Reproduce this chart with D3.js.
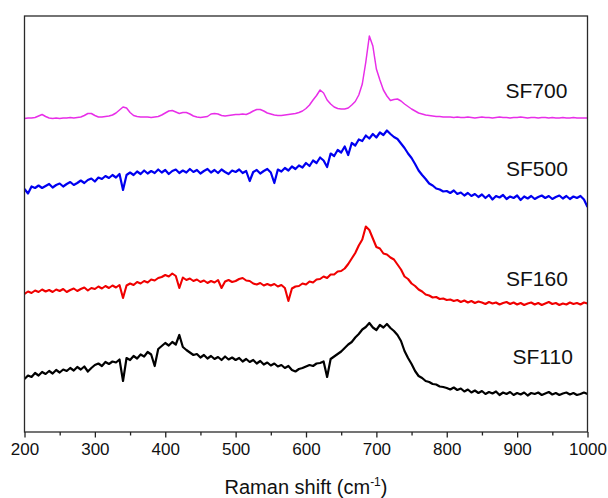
<!DOCTYPE html>
<html>
<head>
<meta charset="utf-8">
<script src="https://cdn.jsdelivr.net/npm/d3@7"></script>
<style>
  body { margin: 0; background: #fff; }
  svg text { font-family: Arial, "Liberation Sans", sans-serif; fill: #111; }
</style>
</head>
<body>
<svg id="chart" width="608" height="498"></svg>
<script>
// Raman shift grid, cm-1
const ramanShift = d3.range(200, 1001, 5);

// intensities (a.u., stacked offsets)
const sf700 = [
  321.5, 322, 322, 322.5, 324, 325.5, 323.5, 322, 321.5, 322,
  321.5, 322, 322, 322.5, 322, 322.5, 323, 324.5, 326.5, 326.5,
  324.5, 323, 323, 323.5, 324, 325, 327, 330, 333, 332,
  327.5, 324.5, 323.5, 323, 323, 323, 322.5, 323, 323.5, 325,
  327, 329, 329.5, 328, 326.5, 327.5, 327.5, 326, 324, 323,
  322.5, 323, 323.5, 326, 326.5, 326, 324.5, 324, 324.5, 325,
  325.5, 325.5, 326, 325.5, 327, 329, 330.5, 330.5, 329, 327,
  326, 325, 324.5, 324.5, 325, 325.5, 326, 326.5, 327.5, 329,
  331.5, 335, 340, 344.5, 350, 347, 340, 336, 333, 331.5,
  331, 331, 332, 335, 338.5, 345, 356, 378, 404, 394,
  371, 360, 350, 344, 339.5, 340.5, 341, 339, 336, 333.5,
  331, 329, 327, 326, 325, 324.5, 324, 323.5, 323.5, 323,
  323,
  323, 322.5, 323, 322.5, 322.5, 323, 322.5, 322, 322.5, 323,
  322.5, 322.5, 322, 322.5, 323, 322.5, 322.5, 322, 322.5, 322.5,
  323, 322.5, 322, 322.5, 322.5, 322, 322.5, 322.5, 322, 322.5,
  322, 322, 322.5, 322, 322, 322.5, 322, 322, 322, 322
];

const sf500 = [
  251, 246.5, 253.5, 252, 254.5, 252, 254, 256, 252.5, 255,
  256.5, 253.5, 256, 258, 255, 257, 259.5, 257, 260, 261.5,
  258.5, 262.5, 261, 264, 262, 265, 262.5, 266, 250, 265,
  267.5, 265, 268.5, 266, 269.5, 266.5, 269, 267, 270.5, 267.5,
  270, 266, 269, 270.5, 267, 269.5, 267.5, 271, 268, 270,
  266.5, 269, 271, 267.5, 270, 267, 270.5, 268, 266, 269.5,
  268, 270.5, 267, 269, 259, 268, 270, 266.5, 269, 271,
  267.5, 257, 270.5, 268.5, 272, 269.5, 273.5, 271, 274.5, 272.5,
  277, 274, 279.5, 277, 282.5, 279.5, 273, 286.5, 284, 290,
  287.5, 293.5, 285, 297, 294.5, 300.5, 299, 304.5, 301.5, 306,
  302.5, 307.5, 305, 309.5, 306, 303, 301, 296.5, 292, 286.5,
  282, 276, 269.5, 265, 261, 256.5, 254.5, 251.5, 250.5, 248.5,
  249,
  247, 249.5, 246, 247.5, 244.5, 247, 244, 246, 243, 245.5,
  242, 245, 240.5, 244, 242.5, 245, 241, 243.5, 242, 244.5,
  240, 243.5, 241.5, 244, 241, 243, 244.5, 242, 244, 241,
  243, 244.5, 241.5, 244, 241, 243.5, 242, 244, 240.5, 233
];

const sf160 = [
  146, 148.5, 147, 149.5, 148, 150.5, 148.5, 150, 148, 150.5,
  149, 151, 148, 150, 151.5, 149, 151, 152.5, 149.5, 152,
  151, 153.5, 151.5, 154, 152, 154.5, 152.5, 155, 142, 154.5,
  156.5, 155, 158, 156.5, 159, 157.5, 160.5, 159.5, 162, 163,
  165, 163.5, 166.5, 164, 152, 162.5, 160, 161.5, 159, 160.5,
  158, 159.5, 157, 159, 157.5, 160, 152, 158.5, 160, 158,
  159, 161, 162, 159.5, 159, 156.5, 155.5, 157, 154.5, 156,
  154.5, 156, 153.5, 155, 152, 139, 151.5, 153.5, 154, 156.5,
  155.5, 158.5, 157.5, 160.5, 161, 163.5, 162, 165.5, 165.5, 168.5,
  169, 171.5, 176, 181.5, 187, 194.5, 200.5, 213.5, 210, 201.5,
  193, 191.5, 186.5, 185.5, 182.5, 180.5, 175.5, 170.5, 163.5, 161,
  156.5, 154, 150.5, 148.5, 145.5, 144.5, 142.5, 143, 141, 141.5,
  140,
  140.5, 139, 140, 138, 139.5, 137.5, 139, 137, 138.5, 137.5,
  136, 138, 136.5, 137.5, 135.5, 137, 138, 136, 137.5, 135.5,
  137, 135, 136.5, 137.5, 135.5, 137, 135, 136.5, 138, 136,
  137, 135, 136.5, 135.5, 137.5, 136, 137, 135.5, 137.5, 136.5
];

const sf110 = [
  61, 64.5, 63, 67, 64.5, 68, 66, 69, 66.5, 70,
  67.5, 70.5, 69, 72, 69.5, 73, 70.5, 73.5, 68.5, 72,
  75, 76.5, 74, 78, 76, 78.5, 77.5, 80.5, 59, 82,
  80, 84, 81.5, 85.5, 83.5, 88, 85.5, 74, 91, 94,
  97, 94.5, 98, 95.5, 105, 93, 90, 87.5, 85, 86,
  82.5, 85, 81.5, 84, 81, 83, 80, 83.5, 80.5, 82.5,
  80, 82, 78.5, 81, 78, 80, 76.5, 79, 75.5, 77.5,
  74.5, 76.5, 73.5, 75, 72, 74, 70, 68.5, 71, 72,
  73.5, 75, 74, 76.5, 77, 78.5, 63, 81, 83.5, 86,
  88.5, 92, 95.5, 98, 102.5, 106, 110.5, 113, 117, 112.5,
  110, 115, 112.5, 116, 112, 109, 105, 99, 89, 82,
  76, 69, 64, 62, 59, 58, 56, 55.5, 53.5, 53,
  52,
  50.5, 52.5, 50, 51.5, 48.5, 50.5, 47.5, 49.5, 47, 49,
  46, 48, 46.5, 48.5, 45, 47.5, 46, 48, 45, 47,
  45.5, 47.5, 44.5, 47, 46, 47.5, 45, 46.5, 48, 45.5,
  47, 45, 46.5, 47.5, 45.5, 47, 45, 46, 47.5, 46
];

const seriesNames = ["SF700", "SF500", "SF160", "SF110"];
const xTicks = [200, 300, 400, 500, 600, 700, 800, 900, 1000];
const xMinorTicks = [250, 350, 450, 550, 650, 750, 850, 950];

const seriesValues = [sf700, sf500, sf160, sf110];
const seriesColors = ["#e82ee8", "#0000f0", "#f00000", "#000000"];
const seriesWidths = [1.5, 2.2, 2.1, 2.2];
const labelPos = [[505.5, 97.5], [506, 176], [506, 286], [512.5, 364]];

const width = 608, height = 498;
const margin = {top: 16, right: 20.5, bottom: 66, left: 24.5};
const innerW = width - margin.left - margin.right;
const innerH = height - margin.top - margin.bottom;

const svg = d3.select("#chart");
const g = svg.append("g")
    .attr("transform", "translate(" + margin.left + "," + margin.top + ")");

const x = d3.scaleLinear().domain([200, 1000]).range([0, innerW]);
const y = d3.scaleLinear().domain([8, 424]).range([innerH, 0]);

const line = d3.line()
    .x((d, i) => x(ramanShift[i]))
    .y(d => y(d));

g.append("defs").append("clipPath").attr("id", "plot-clip")
    .append("rect").attr("width", innerW).attr("height", innerH);

seriesValues.forEach((vals, i) => {
    g.append("path")
        .datum(vals)
        .attr("d", line)
        .attr("clip-path", "url(#plot-clip)")
        .style("fill", "none")
        .style("stroke", seriesColors[i])
        .style("stroke-width", seriesWidths[i])
        .style("stroke-linejoin", "round");
});

// frame
g.append("rect")
    .attr("width", innerW)
    .attr("height", innerH)
    .style("fill", "none")
    .style("stroke", "#2a2a2a")
    .style("stroke-width", 1.3);

// minor ticks
const minorAxis = g.append("g")
    .attr("transform", "translate(0," + innerH + ")")
    .call(d3.axisBottom(x).tickValues(xMinorTicks).tickSize(3.5).tickFormat(""));
minorAxis.select(".domain").remove();
minorAxis.selectAll("line").style("stroke", "#222").style("stroke-width", 1.3);

// major ticks
const xAxis = g.append("g")
    .attr("transform", "translate(0," + innerH + ")")
    .call(d3.axisBottom(x).tickValues(xTicks).tickSize(5.5).tickPadding(5).tickFormat(d3.format("d")));
xAxis.select(".domain").remove();
xAxis.selectAll("line").style("stroke", "#222").style("stroke-width", 1.3);
xAxis.selectAll("text")
    .style("font-size", "17px")
    .style("font-family", "Arial, 'Liberation Sans', sans-serif")
    .style("fill", "#111");

// axis title
const title = svg.append("text")
    .attr("x", margin.left + innerW / 2)
    .attr("y", 494)
    .attr("text-anchor", "middle")
    .style("font-size", "20px");
title.append("tspan").text("Raman shift (cm");
title.append("tspan").attr("dy", -8).style("font-size", "12px").text("-1");
title.append("tspan").attr("dy", 8).text(")");

// series labels
seriesNames.forEach((name, i) => {
    svg.append("text")
        .attr("x", labelPos[i][0])
        .attr("y", labelPos[i][1])
        .style("font-size", "21px")
        .text(name);
});
</script>
</body>
</html>
